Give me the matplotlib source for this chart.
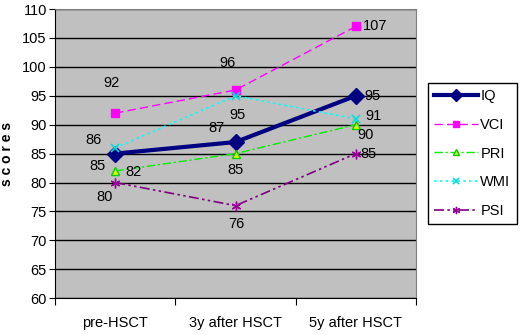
import numpy as np
import matplotlib
matplotlib.use('Agg')
import matplotlib.pyplot as plt

plt.rcParams['font.family'] = ['Liberation Sans', 'DejaVu Sans']

categories = ['pre-HSCT', '3y after HSCT', '5y after HSCT']
iq = [85, 87, 95]
vci = [92, 96, 107]
pri = [82, 85, 90]
wmi = [86, 95, 91]
psi = [80, 76, 85]

# label offsets (pixels) for each point
offsets = {
    'IQ': [(-18, -12), (-19, 14), (17, 0)],
    'VCI': [(-4, 30), (-8, 27), (19, 0)],
    'PRI': [(18, -1), (0, -16), (10, -10)],
    'WMI': [(-22, 8), (2, -19), (18, 3)],
    'PSI': [(-11, -14), (1, -18), (13, 0)],
}

series = [
    ('IQ', iq, dict(color='#000080', lw=3, ls='-', marker='D', ms=8,
                    mfc='#000080', mec='#000080')),
    ('VCI', vci, dict(color='#FF00FF', lw=1, ls=(0, (6, 3)), marker='s', ms=6,
                      mfc='#FF00FF', mec='#FF00FF')),
    ('PRI', pri, dict(color='#00EE00', lw=1, ls=(0, (6, 2, 1.5, 2)), marker='^', ms=6,
                      mfc='#DDFF00', mec='#00CC00')),
    ('WMI', wmi, dict(color='#00FFFF', lw=1.2, ls=(0, (1.5, 2)), marker='x', ms=6,
                      mec='#00DDDD', mew=1.2)),
    ('PSI', psi, dict(color='#800080', lw=1.2, ls=(0, (6, 2, 1.5, 2, 1.5, 2)), marker=(6, 2, 0),
                      ms=7, mec='#990099', mew=1)),
]

fig = plt.figure(figsize=(5.2, 3.35), dpi=100)
ax = fig.add_axes([0.106, 0.110, 0.694, 0.863])
ax.set_facecolor('#C0C0C0')

x = np.arange(len(categories))
for name, vals, style in series:
    ax.plot(x, vals, label=name, **style)
    for xi, v, (dx, dy) in zip(x, vals, offsets[name]):
        ax.annotate(str(v), (xi, v), xytext=(dx, dy), textcoords='offset pixels',
                    ha='center', va='center', fontsize=10.5)

ax.set_xlim(-0.5, 2.5)
ax.set_ylim(60, 110)
ax.set_yticks(np.arange(60, 111, 5))
ax.yaxis.grid(True, color='black', lw=1)
ax.set_axisbelow(True)
ax.set_xticks([-0.5, 0.5, 1.5, 2.5])
ax.set_xticklabels([])
ax.set_xticks(x, minor=True)
ax.set_xticklabels(categories, minor=True, fontsize=10.5)
ax.tick_params(axis='x', which='minor', length=0, pad=13)
ax.tick_params(axis='x', which='major', length=5, direction='out', color='black')
ax.tick_params(axis='y', length=4, direction='out', labelsize=10.5, pad=2)

for s in ['top', 'right']:
    ax.spines[s].set_color('#808080')
ax.spines['left'].set_color('black')
ax.spines['bottom'].set_color('black')

ax.set_ylabel('s c o r e s', fontsize=10, fontweight='bold')
ax.yaxis.set_label_coords(-0.115, 0.5)

leg = ax.legend(loc='center left', bbox_to_anchor=(1.033, 0.5), frameon=True,
                fancybox=False, edgecolor='black', facecolor='white', framealpha=1,
                fontsize=10.5, handlelength=3.0, handletextpad=0.15,
                labelspacing=1.0, borderpad=0.45, borderaxespad=0, markerscale=0.75)
leg.get_frame().set_linewidth(1)

fig.savefig('out.png', dpi=100)
